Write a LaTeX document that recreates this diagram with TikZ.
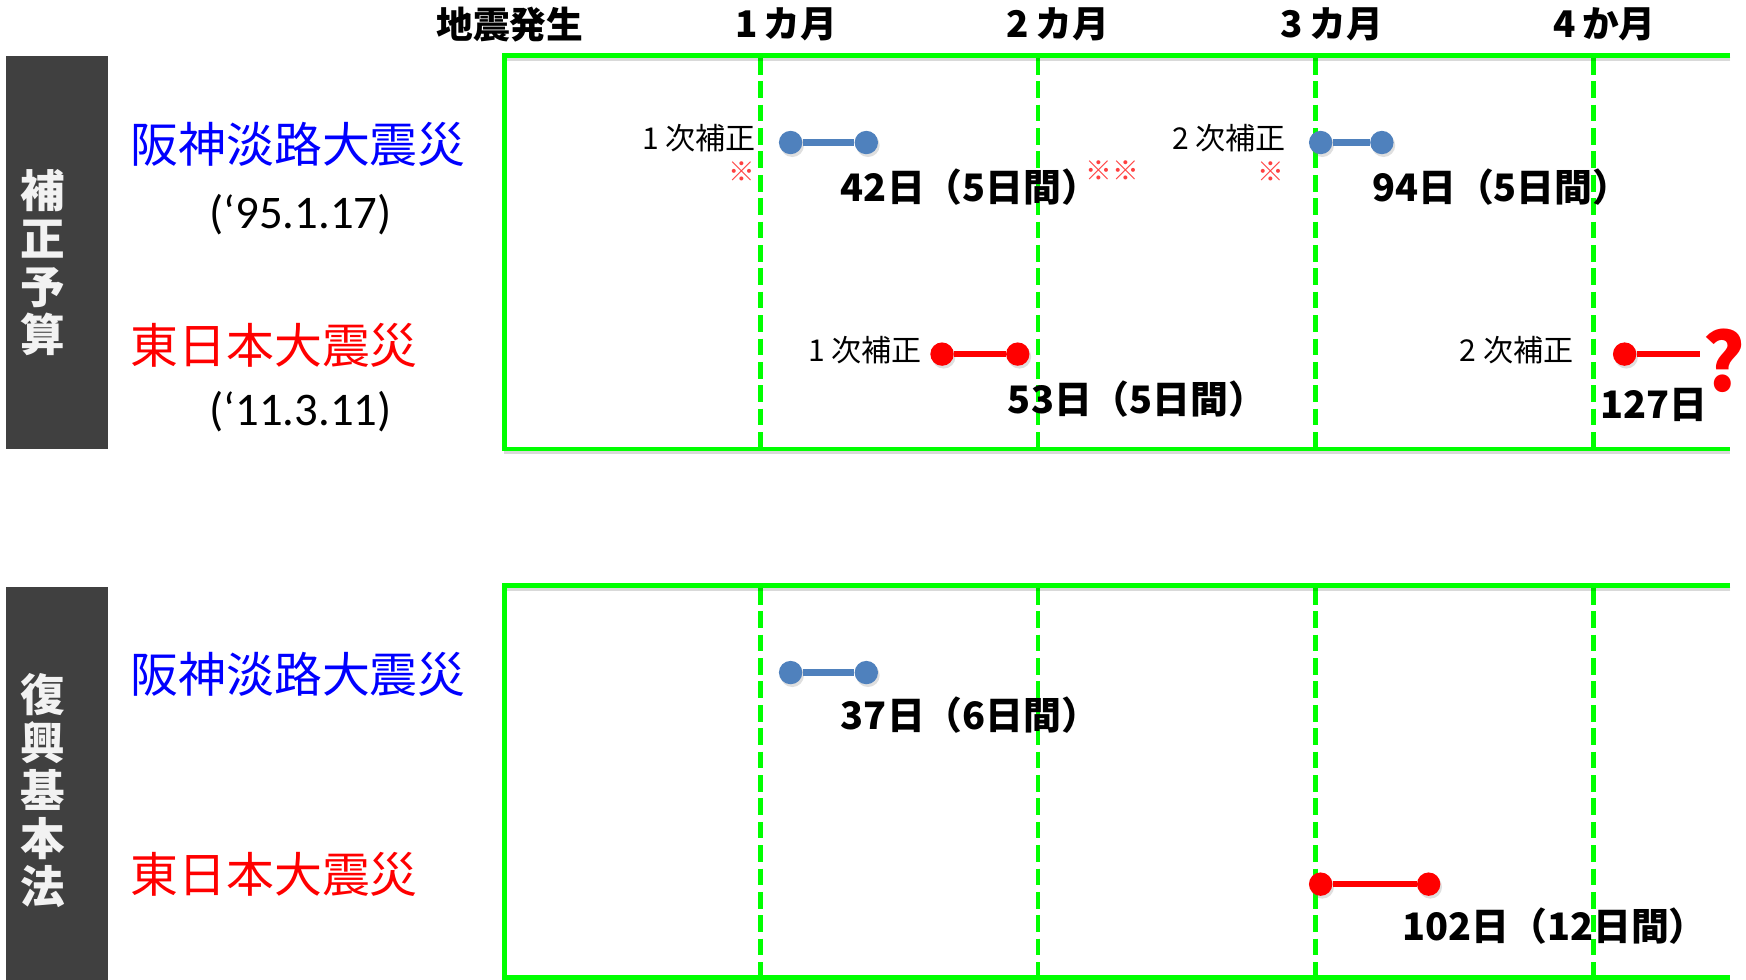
\documentclass[tikz,border=0pt]{standalone}
\usepackage{fontspec}
\usetikzlibrary{shadows}
\newfontfamily\jp{Noto Sans CJK JP}
\newfontfamily\lat{Carlito}
\definecolor{grn}{HTML}{00FF00}
\definecolor{darkg}{HTML}{404040}
\definecolor{sidetxt}{HTML}{F2F2F2}
\definecolor{bbl}{HTML}{4F81BD}
\definecolor{rred}{HTML}{FF0000}
\definecolor{kome}{HTML}{FF4040}
\tikzset{
  frameline/.style={draw=grn, line width=4},
  gridline/.style={draw=grn, line width=4, dash pattern=on 15pt off 6pt},
  sidebox/.style={fill=darkg, draw=none, minimum width=92, minimum height=353, inner sep=0},
  sidetext/.style={text=sidetxt, align=center, inner sep=0, font=\jp\bfseries\fontsize{40}{43}\selectfont},
  dname/.style={anchor=west, inner sep=0, font=\jp\fontsize{43}{50}\selectfont},
  dated/.style={inner sep=0, font=\lat\fontsize{42}{48}\selectfont},
  hdr/.style={inner sep=0, font=\jp\bfseries\fontsize{33}{36}\selectfont},
  hosei/.style={anchor=east, inner sep=0, font=\jp\fontsize{27}{30}\selectfont},
  komel/.style={inner sep=0, text=kome, font=\jp\fontsize{24}{26}\selectfont},
  days/.style={anchor=west, inner sep=0, font=\jp\bfseries\fontsize{34}{38}\selectfont},
  bdot/.style={circle, fill=bbl, inner sep=0, minimum size=21, drop shadow={opacity=0.25, shadow xshift=1.5pt, shadow yshift=-2.5pt}},
  rdot/.style={circle, fill=rred, inner sep=0, minimum size=21, drop shadow={opacity=0.25, shadow xshift=1.5pt, shadow yshift=-2.5pt}},
  bbar/.style={draw=bbl, line width=6},
  rbar/.style={draw=rred, line width=6},
}
\begin{document}
\begin{tikzpicture}[x=1pt,y=-1pt]
\useasboundingbox (0,0) rectangle (1568,880);
\fill[white] (0,0) rectangle (1568,880);

% side boxes
\node[sidebox] (boxA) at (51,226.5) {};
\node[sidetext] (boxAt) at (38,236) {補\\正\\予\\算};
\node[sidebox] (boxB) at (51,703.5) {};
\node[sidetext] (boxBt) at (38,710) {復\\興\\基\\本\\法};

% disaster names
\node[dname, text=blue] (hanA) at (117,130) {阪神淡路大震災};
\node[dated] (dateA) at (270,193) {(‘95.1.17)};
\node[dname, text=rred] (higA) at (117,310) {東日本大震災};
\node[dated] (dateB) at (270,370) {(‘11.3.11)};
\node[dname, text=blue] (hanB) at (117,606) {阪神淡路大震災};
\node[dname, text=rred] (higB) at (117,785) {東日本大震災};

% headers
\node[hdr] (h0) at (458,22) {地震発生};
\node[hdr] (h1) at (706,22) {1\,カ月};
\node[hdr] (h2) at (950,22) {2\,カ月};
\node[hdr] (h3) at (1196,22) {3\,カ月};
\node[hdr] (h4) at (1441,22) {4\,か月};

% frame coordinates
\coordinate (aTR) at (1554,50);
\coordinate (aTL) at (453,50);
\coordinate (aBL) at (453,403);
\coordinate (aBR) at (1554,403);
\coordinate (bTR) at (1554,526);
\coordinate (bTL) at (453,526);
\coordinate (bBL) at (453,878);
\coordinate (bBR) at (1554,878);

% grid dashed lines
\foreach \gx [count=\i] in {683,932,1181.5,1431}{
  \coordinate (gat\i) at (\gx,52);
  \coordinate (gab\i) at (\gx,401);
  \coordinate (gbt\i) at (\gx,528);
  \coordinate (gbb\i) at (\gx,876);
  \draw[gridline] (gat\i) -- (gab\i);
  \draw[gridline] (gbt\i) -- (gbb\i);
}

% frames with shadow
\draw[draw=black, opacity=0.15, line width=4] ([yshift=-3pt]aTR) -- ([yshift=-3pt]aTL);
\draw[draw=black, opacity=0.15, line width=4] ([yshift=-3pt]aBL) -- ([yshift=-3pt]aBR);
\draw[draw=black, opacity=0.15, line width=4] ([yshift=-3pt]bTR) -- ([yshift=-3pt]bTL);
\draw[frameline] (aTR) -- (aTL) -- (aBL) -- (aBR);
\draw[frameline] (bTR) -- (bTL) -- (bBL) -- (bBR);

% top section: Hanshin
\node[bdot] (a1s) at (710,128) {};
\node[bdot] (a1e) at (778,128) {};
\draw[bbar] (a1s) -- (a1e);
\node[hosei] (a1l) at (679,124) {1 次補正};
\node[komel] (a1k) at (666,154) {※};
\node[days] (a1d) at (755,168) {42日（5日間）\kern-0.5em};
\node[komel, anchor=west] (a1kk) at (975,153) {※※};

\node[bdot] (a2s) at (1186,128) {};
\node[bdot] (a2e) at (1241,128) {};
\draw[bbar] (a2s) -- (a2e);
\node[hosei] (a2l) at (1155,124) {2 次補正};
\node[komel] (a2k) at (1141,154) {※};
\node[days] (a2d) at (1232,168) {94日（5日間）};

% top section: Higashi Nihon
\node[rdot] (a3s) at (846,318) {};
\node[rdot] (a3e) at (914,318) {};
\draw[rbar] (a3s) -- (a3e);
\node[hosei] (a3l) at (828,314) {1 次補正};
\node[days] (a3d) at (905,358) {53日（5日間）};

\node[rdot] (a4s) at (1459,318) {};
\coordinate (a4e) at (1527,318);
\draw[rbar] (a4s) -- (a4e);
\node[hosei] (a4l) at (1413,314) {2 次補正};
\node[days] (a4d) at (1437,364) {127日};
\node[inner sep=0, text=rred, font=\jp\bfseries\fontsize{72}{76}\selectfont] (q) at (1548,324) {?};

% bottom section
\node[bdot] (b1s) at (710,604) {};
\node[bdot] (b1e) at (778,604) {};
\draw[bbar] (b1s) -- (b1e);
\node[days] (b1d) at (755,642) {37日（6日間）};

\node[rdot] (b2s) at (1186,794) {};
\node[rdot] (b2e) at (1283,794) {};
\draw[rbar] (b2s) -- (b2e);
\node[days] (b2d) at (1259,832) {102日（12日間）};
\end{tikzpicture}
\end{document}
